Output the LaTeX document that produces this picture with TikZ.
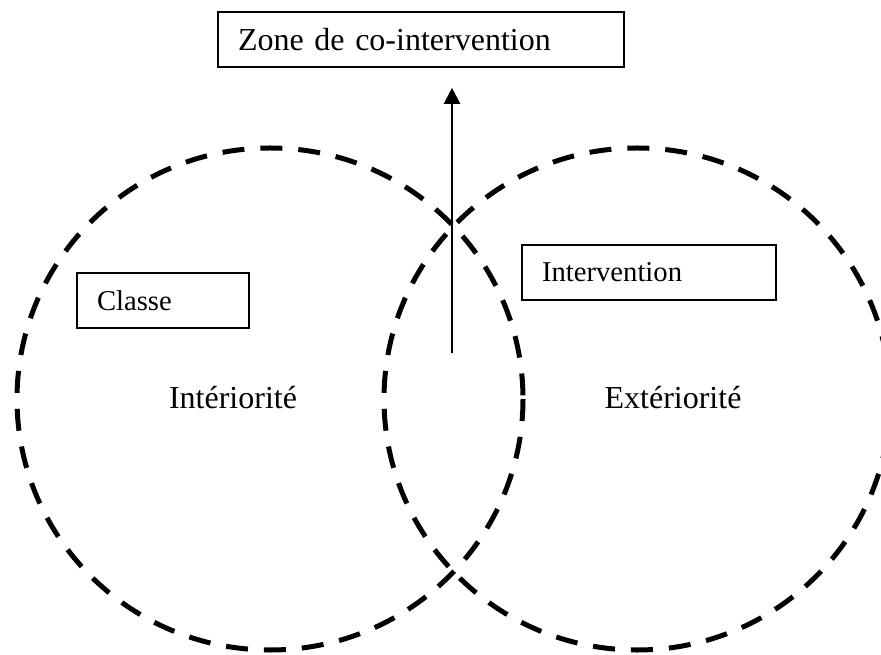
\documentclass[tikz,border=0pt]{standalone}
\usepackage{fontspec}
\setmainfont{Liberation Serif}
\usetikzlibrary{arrows.meta}
\usetikzlibrary{positioning}

\tikzset{
  zonebox/.style={draw,line width=1.2pt,minimum height=41.25pt,inner xsep=15pt,inner ysep=2pt,align=left},
  bigtext/.style={font=\fontsize{24}{28}\selectfont},
  smalltext/.style={font=\fontsize{21.5}{26}\selectfont},
  dashring/.style={line width=3.75pt,dash pattern=on 16.5pt off 12pt},
}

\begin{document}
\begin{tikzpicture}[x=0.75pt,y=-0.75pt]
\useasboundingbox (0,0) rectangle (881,655);
\clip (0,0) rectangle (881,655);
\draw[dashring] (270,399) ellipse [x radius=253, y radius=251];
\draw[dashring] (637,399) ellipse [x radius=253, y radius=251];

\node[zonebox,bigtext,text width=274.5pt] (zone) at (421,39.5) {Zone de co-intervention};
\node[zonebox,smalltext,text width=99pt] (classe) at (163,300.5) {Classe};
\node[zonebox,smalltext,text width=160.5pt] (intervention) at (649,272.5) {Intervention};

\node[bigtext,anchor=base] (interiorite) at (233,409) {Intériorité};
\node[bigtext,anchor=base] (exteriorite) at (673,409) {Extériorité};

\coordinate (arrowfoot) at (452,353);
\draw[line width=1.6pt,-{Triangle[length=12pt,width=12pt]}] (arrowfoot) -- ([yshift=-15pt]arrowfoot |- zone.south);
\end{tikzpicture}
\end{document}
